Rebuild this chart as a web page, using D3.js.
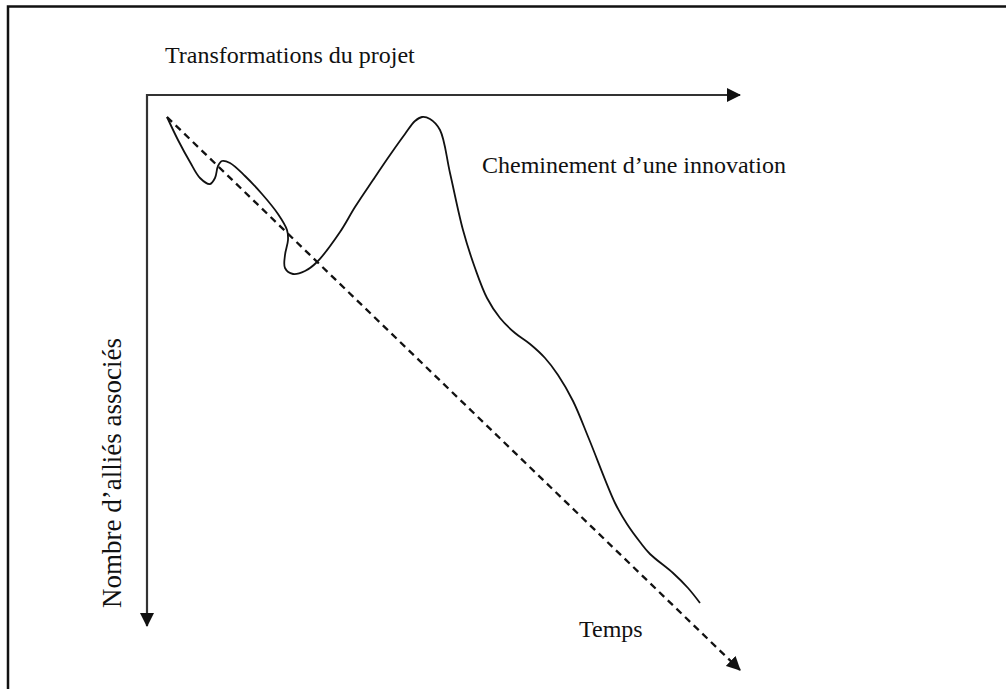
<!DOCTYPE html>
<html lang="fr">
<head>
    <meta charset="UTF-8">
    <title>Cheminement d’une innovation</title>
    <script src="https://d3js.org/d3.v7.min.js"></script>
    <style>
        body { margin: 0; background: #fff; }
        .lbl { font-family: "Liberation Serif", "Times New Roman", serif; font-size: 24px; fill: #111; }
    </style>
</head>
<body>
<svg width="1006" height="689"></svg>
<script>
    // path of the innovation (abstract units, x = transformations, y = allies)
    const curveX = [10, 15.5, 21.5, 26.5, 31.5, 34, 35.5, 37.5, 41.5, 49, 57.5, 65.5, 70, 70.5, 69, 69, 73, 79, 85, 96.5,
        104, 113, 121.5, 129, 134, 137.5, 141.5, 146.5, 151.5, 158, 164, 170, 176.5, 184, 191.5, 199, 205.5, 213, 221,
        234, 240, 246.5, 251.5, 263, 270.5, 276.5];
    const curveY = [11, 22.5, 33.5, 41.5, 44.5, 41.5, 35.5, 33, 34, 40.5, 49.5, 59.5, 67.5, 72.5, 80, 86.5, 89.5, 88, 83.5, 68.5,
        56, 42.5, 30, 19.5, 13, 11, 12, 17.5, 39, 67.5, 86.5, 101.5, 111.5, 119, 124.5, 131.5, 140, 153, 172,
        204, 214.5, 223.5, 229.5, 239, 246.5, 254];

    // time line (dashed) from start to end
    const timeX = [10, 296.5];
    const timeY = [11, 287.5];

    // axis ends
    const axisEndX = 296.5;
    const axisEndY = 265.5;

    const labels = {
        top: "Transformations du projet",
        side: "Nombre d’alliés associés",
        curve: "Cheminement d’une innovation",
        time: "Temps"
    };

    const svg = d3.select("svg");
    const x = d3.scaleLinear().domain([0, 300]).range([147, 747]);
    const y = d3.scaleLinear().domain([0, 300]).range([95, 695]);

    // frame (top and left edges only, rest is cut)
    svg.append("path")
        .attr("d", "M8,689 L8,6.5 L1006,6.5")
        .attr("fill", "none").attr("stroke", "#111").attr("stroke-width", 2.5);

    const defs = svg.append("defs");
    defs.append("marker").attr("id", "head")
        .attr("viewBox", "0 0 14 14").attr("refX", 13).attr("refY", 7)
        .attr("markerWidth", 14).attr("markerHeight", 14)
        .attr("markerUnits", "userSpaceOnUse").attr("orient", "auto")
        .append("path").attr("d", "M0,0 L14,7 L0,14 Z").attr("fill", "#111");

    // axes
    svg.append("line")
        .attr("x1", x(0)).attr("y1", y(0)).attr("x2", x(axisEndX)).attr("y2", y(0))
        .attr("stroke", "#333").attr("stroke-width", 2.2).attr("marker-end", "url(#head)");
    svg.append("line")
        .attr("x1", x(0)).attr("y1", y(0) - 1).attr("x2", x(0)).attr("y2", y(axisEndY))
        .attr("stroke", "#333").attr("stroke-width", 2.2).attr("marker-end", "url(#head)");

    // dashed time line
    svg.append("line")
        .attr("x1", x(timeX[0])).attr("y1", y(timeY[0]))
        .attr("x2", x(timeX[1])).attr("y2", y(timeY[1]))
        .attr("stroke", "#111").attr("stroke-width", 2.3)
        .attr("stroke-dasharray", "7,5").attr("marker-end", "url(#head)");

    // innovation path
    const pts = curveX.map((v, i) => [v, curveY[i]]);
    const line = d3.line().x(d => x(d[0])).y(d => y(d[1])).curve(d3.curveCatmullRom.alpha(0.5));
    svg.append("path").datum(pts)
        .attr("d", line)
        .attr("fill", "none").attr("stroke", "#111").attr("stroke-width", 1.8)
        .attr("stroke-linejoin", "round");

    // texts
    svg.append("text").attr("class", "lbl").attr("x", 165).attr("y", 63).text(labels.top);
    svg.append("text").attr("class", "lbl").attr("x", 482).attr("y", 173).text(labels.curve);
    svg.append("text").attr("class", "lbl").attr("x", 579).attr("y", 637).text(labels.time);
    svg.append("text").attr("class", "lbl")
        .attr("transform", "translate(121,608) rotate(-90)")
        .style("font-size", "27px")
        .text(labels.side);
</script>
</body>
</html>
